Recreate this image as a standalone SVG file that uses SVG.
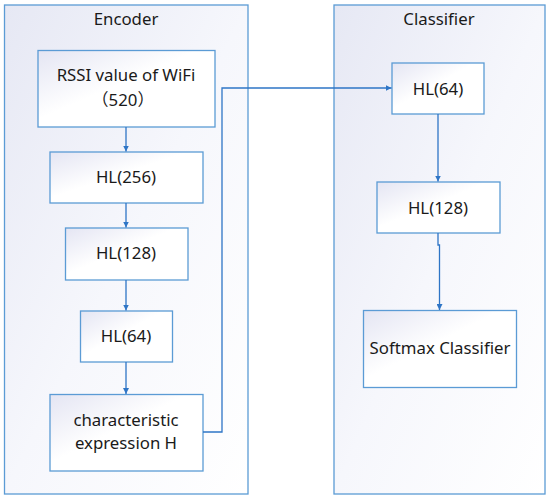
<svg xmlns="http://www.w3.org/2000/svg" width="550" height="500" viewBox="0 0 550 500">
<defs>
<linearGradient id="cg" x1="0" y1="0" x2="1" y2="1">
<stop offset="0" stop-color="#e6e8f4"/>
<stop offset="0.5" stop-color="#f6f7fc"/>
<stop offset="1" stop-color="#ffffff"/>
</linearGradient>
<linearGradient id="ng" x1="0" y1="0" x2="1" y2="1">
<stop offset="0" stop-color="#e4e5f3"/>
<stop offset="0.45" stop-color="#ffffff"/>
<stop offset="1" stop-color="#ffffff"/>
</linearGradient>
<marker id="ah" viewBox="0 0 10 10" refX="10" refY="5" markerWidth="6" markerHeight="6" markerUnits="userSpaceOnUse" orient="auto">
<path d="M0,0 L10,5 L0,10 Z" fill="#2e75c6"/>
</marker>
<style>
.cont{fill:url(#cg);stroke:#5b9bd5;stroke-width:1.3}
.node{fill:url(#ng);stroke:#5b9bd5;stroke-width:1.3}
.t{font-family:"Noto Sans","Noto Sans CJK SC","Open Sans","DejaVu Sans",sans-serif;font-size:16.8px;fill:#1a1a1a;text-anchor:middle}
.c{fill:none;stroke:#2e75c6;stroke-width:1.3;marker-end:url(#ah)}
</style>
</defs>
<g id="encoder">
<rect class="cont" x="4.5" y="5" width="243.5" height="489"/>
<text class="t" x="126" y="25">Encoder</text>
</g>
<g id="classifier">
<rect class="cont" x="334" y="5" width="211" height="489"/>
<text class="t" x="439" y="25">Classifier</text>
</g>
<g id="rssi">
<rect class="node" x="38" y="50.5" width="177" height="76.5"/>
<text class="t" x="126" y="81">RSSI value of WiFi</text>
<text class="t" x="123" y="106">（520）</text>
</g>
<g id="enc-hl256">
<rect class="node" x="50" y="152" width="153" height="51"/>
<text class="t" x="126" y="183">HL(256)</text>
</g>
<g id="enc-hl128">
<rect class="node" x="65.5" y="228" width="122.5" height="52"/>
<text class="t" x="126" y="259">HL(128)</text>
</g>
<g id="enc-hl64">
<rect class="node" x="80.5" y="311" width="92" height="51"/>
<text class="t" x="126" y="342">HL(64)</text>
</g>
<g id="charH">
<rect class="node" x="50" y="394.5" width="153" height="76.5"/>
<text class="t" x="126" y="426">characteristic</text>
<text class="t" x="126" y="449">expression H</text>
</g>
<g id="cls-hl64">
<rect class="node" x="392" y="63" width="92" height="51"/>
<text class="t" x="438" y="95">HL(64)</text>
</g>
<g id="cls-hl128">
<rect class="node" x="377" y="182" width="123" height="51"/>
<text class="t" x="438" y="214">HL(128)</text>
</g>
<g id="softmax">
<rect class="node" x="363.5" y="310.5" width="153" height="77"/>
<text class="t" x="440" y="354">Softmax Classifier</text>
</g>
<g id="connectors">
<path class="c" d="M126,127 V151.5"/>
<path class="c" d="M126,203 V227.5"/>
<path class="c" d="M126,280 V310.5"/>
<path class="c" d="M126,362 V394"/>
<path class="c" d="M203,432 H222 V88 H391.5"/>
<path class="c" d="M438,114 V181.5"/>
<path class="c" d="M438,233 V245 H439.5 V310"/>
</g>
</svg>
